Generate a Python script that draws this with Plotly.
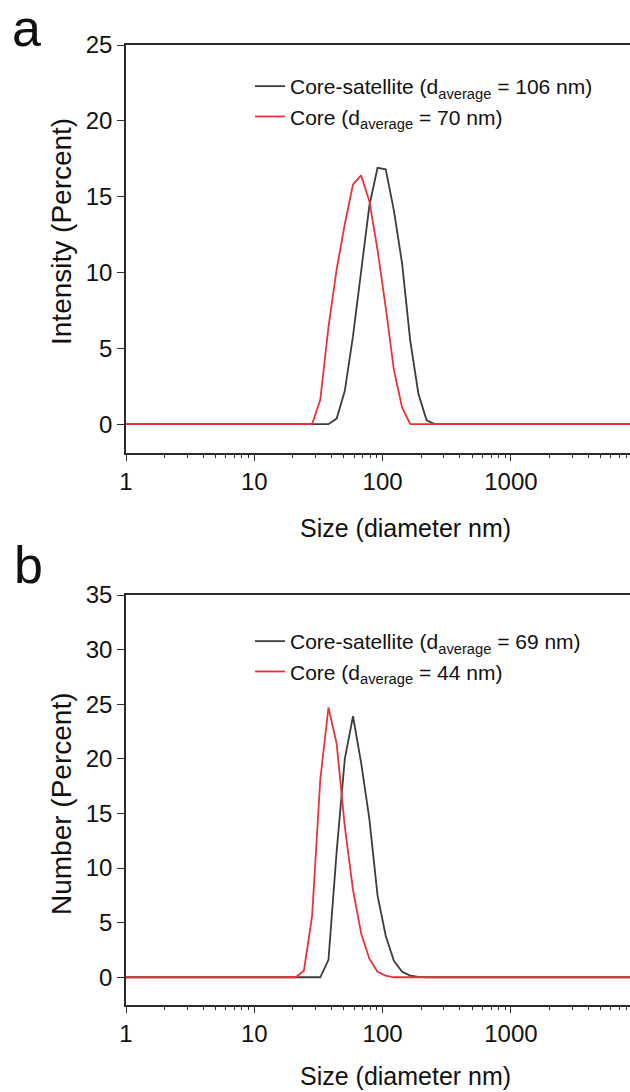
import plotly.graph_objects as go

# DLS size bins (nm)
sizes = [0.9649, 1.117, 1.294, 1.499, 1.736, 2.010, 2.328, 2.696, 3.122, 3.615,
         4.187, 4.849, 5.615, 6.503, 7.531, 8.721, 10.10, 11.70, 13.54, 15.69,
         18.17, 21.04, 24.36, 28.21, 32.67, 37.84, 43.82, 50.75, 58.77, 68.06,
         78.82, 91.28, 105.7, 122.4, 141.8, 164.2, 190.1, 220.2, 255.0, 295.3,
         342.0, 396.1, 458.7, 531.2, 615.1, 712.4, 825.0, 955.4, 1106, 1281,
         1484, 1718, 1990, 2305, 2669, 3091, 3580, 4145, 4801, 5560,
         6439, 7456, 8635, 10000]

# Panel a: intensity (%)
intensity_core_sat = [0, 0, 0, 0, 0, 0, 0, 0, 0, 0,
                      0, 0, 0, 0, 0, 0, 0, 0, 0, 0,
                      0, 0, 0, 0, 0, 0, 0.37, 2.2, 5.8, 10.2,
                      14.4, 16.9, 16.8, 14.1, 10.6, 5.5, 2.0, 0.26, 0, 0,
                      0, 0, 0, 0, 0, 0, 0, 0, 0, 0,
                      0, 0, 0, 0, 0, 0, 0, 0, 0, 0,
                      0, 0, 0, 0]
intensity_core = [0, 0, 0, 0, 0, 0, 0, 0, 0, 0,
                  0, 0, 0, 0, 0, 0, 0, 0, 0, 0,
                  0, 0, 0, 0, 1.6, 6.4, 10.2, 13.2, 15.8, 16.4,
                  14.7, 11.5, 7.7, 3.6, 1.1, 0, 0, 0, 0, 0,
                  0, 0, 0, 0, 0, 0, 0, 0, 0, 0,
                  0, 0, 0, 0, 0, 0, 0, 0, 0, 0,
                  0, 0, 0, 0]

# Panel b: number (%)
number_core_sat = [0, 0, 0, 0, 0, 0, 0, 0, 0, 0,
                   0, 0, 0, 0, 0, 0, 0, 0, 0, 0,
                   0, 0, 0, 0, 0, 1.6, 11.5, 20.0, 23.9, 19.6,
                   14.5, 7.5, 3.8, 1.5, 0.5, 0.15, 0.03, 0, 0, 0,
                   0, 0, 0, 0, 0, 0, 0, 0, 0, 0,
                   0, 0, 0, 0, 0, 0, 0, 0, 0, 0,
                   0, 0, 0, 0]
number_core = [0, 0, 0, 0, 0, 0, 0, 0, 0, 0,
               0, 0, 0, 0, 0, 0, 0, 0, 0, 0,
               0, 0, 0.6, 5.6, 18.1, 24.7, 21.4, 13.8, 8.0, 4.0,
               1.7, 0.5, 0.15, 0, 0, 0, 0, 0, 0, 0,
               0, 0, 0, 0, 0, 0, 0, 0, 0, 0,
               0, 0, 0, 0, 0, 0, 0, 0, 0, 0,
               0, 0, 0, 0]

names_a = ["Core-satellite (d<sub>average</sub> = 106 nm)", "Core (d<sub>average</sub> = 70 nm)"]
names_b = ["Core-satellite (d<sub>average</sub> = 69 nm)", "Core (d<sub>average</sub> = 44 nm)"]
x_tickvals = [1, 10, 100, 1000]
x_ticktext = ["1", "10", "100", "1000"]
x_title = "Size (diameter nm)"
y_title_a = "Intensity (Percent)"
y_title_b = "Number (Percent)"

FONT = "Liberation Sans, Arial, sans-serif"
BLACK = "#3c3c3c"
RED = "#e8333a"
AX = "#2a2a2a"
TXT = "#111111"

fig = go.Figure()
fig.add_trace(go.Scatter(x=sizes, y=intensity_core_sat, mode="lines", name=names_a[0],
                         line=dict(color=BLACK, width=1.8), xaxis="x", yaxis="y", legend="legend"))
fig.add_trace(go.Scatter(x=sizes, y=intensity_core, mode="lines", name=names_a[1],
                         line=dict(color=RED, width=1.8), xaxis="x", yaxis="y", legend="legend"))
fig.add_trace(go.Scatter(x=sizes, y=number_core_sat, mode="lines", name=names_b[0],
                         line=dict(color=BLACK, width=1.8), xaxis="x2", yaxis="y2", legend="legend2"))
fig.add_trace(go.Scatter(x=sizes, y=number_core, mode="lines", name=names_b[1],
                         line=dict(color=RED, width=1.8), xaxis="x2", yaxis="y2", legend="legend2"))

minor_vals = [m * 10 ** d for d in range(0, 4) for m in range(2, 10)]

def xax(anchor):
    return dict(type="log", range=[0, 3.928], domain=[0, 1], anchor=anchor,
                showline=True, linecolor=AX, linewidth=1.6, mirror=True,
                ticks="outside", ticklen=6, tickwidth=1.4, tickcolor=AX,
                tickvals=x_tickvals, ticktext=x_ticktext,
                minor=dict(ticks="outside", ticklen=3, tickwidth=1.2, tickcolor=AX, tickvals=minor_vals),
                showgrid=False, zeroline=False, automargin=False,
                tickfont=dict(family=FONT, size=24, color=TXT))

def yax(anchor, rng, dom):
    return dict(range=rng, domain=dom, anchor=anchor,
                showline=True, linecolor=AX, linewidth=1.6, mirror=False,
                ticks="outside", ticklen=7, tickwidth=1.4, tickcolor=AX,
                tick0=0, dtick=5, showgrid=False, zeroline=False, automargin=False,
                tickfont=dict(family=FONT, size=24, color=TXT))

L, T, B = 126, 45, 87
H = 1092 - T - B
W = 630 - L

def py(p):
    return (1092 - B - p) / H

def px(p):
    return (p - L) / W

def label(text, x, y, size, angle=0):
    return dict(text=text, x=px(x), y=py(y), xref="paper", yref="paper", showarrow=False,
                textangle=angle, font=dict(family=FONT, size=size, color=TXT),
                xanchor="center", yanchor="middle")

fig.update_layout(
    width=630, height=1092,
    margin=dict(l=L, r=0, t=T, b=B, pad=0),
    paper_bgcolor="white", plot_bgcolor="white",
    font=dict(family=FONT, color=TXT),
    xaxis=xax("y"),
    yaxis=yax("x", [-1.9, 25], [py(453), 1.0]),
    xaxis2=xax("y2"),
    yaxis2=yax("x2", [-2.54, 35], [0, py(595)]),
    legend=dict(x=px(250), y=py(66), xanchor="left", yanchor="top",
                bgcolor="rgba(0,0,0,0)", font=dict(family=FONT, size=21, color=TXT),
                itemwidth=30, tracegroupgap=0),
    legend2=dict(x=px(250), y=py(621), xanchor="left", yanchor="top",
                 bgcolor="rgba(0,0,0,0)", font=dict(family=FONT, size=21, color=TXT),
                 itemwidth=30, tracegroupgap=0),
    annotations=[
        label("a", 26, 28, 52),
        label("b", 28, 565, 52),
        label(x_title, 405, 528, 25),
        label(x_title, 405, 1076, 25),
        label(y_title_a, 61, 232, 28, -90),
        label(y_title_b, 61, 804, 28, -90),
    ],
)

fig.write_html("out.html")
